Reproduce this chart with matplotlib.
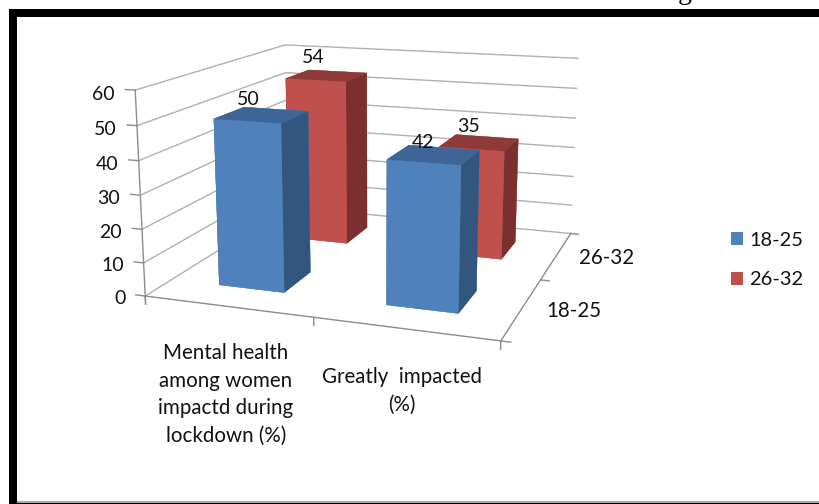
#!/usr/bin/env python
# -*- encoding: utf-8 -*-
import matplotlib
matplotlib.use('Agg')
import matplotlib.pyplot as plt
from matplotlib.patches import Patch, Rectangle
from mpl_toolkits.mplot3d import proj3d

categories = ['Mental health\namong women\nimpactd during\nlockdown (%)', 'Greatly  impacted\n(%)']
series = ['18-25', '26-32']
values_18_25 = [50, 42]
values_26_32 = [54, 35]
z_ticks = [0, 10, 20, 30, 40, 50, 60]

W, H = 820, 504
plt.rcParams['font.family'] = ['Lato', 'DejaVu Sans']
FS = 14
FS_CAT = 14.8
TXT = '#111111'

fig = plt.figure(figsize=(W / 100, H / 100), dpi=100)
# view fitted against the reference corners
ax = fig.add_axes([119.07 / W, 77.95 / H, 499.95 / W, 499.95 / H], projection='3d', computed_zorder=False)
ax.view_init(13.4, -70.78, 0)
ax.set_proj_type('persp', focal_length=0.431)
ax.set_box_aspect((1.744, 1.722, 1))
ax.set_axis_off()
ax.patch.set_alpha(0)

n_cat = len(categories)
n_ser = len(series)
top = z_ticks[-1]


def label(x, y, z, s, **kw):
    # plain 2D text at the projected point of a data position
    px, py, _ = proj3d.proj_transform(x, y, z, ax.get_proj())
    ax.text2D(px, py, s, transform=ax.transData, color=TXT, zorder=20, **kw)


# walls
for z in z_ticks:
    ax.plot([0, 0, n_cat], [0, n_ser, n_ser], [z, z, z], color='#b0b0b0', lw=1.0, zorder=1)
# axis lines and ticks
axis_c = '#8c8c8c'
ax.plot([0, 0], [0, 0], [-2.4, top], color=axis_c, lw=1.0, zorder=1.5)
ax.plot([0, n_cat], [0, 0], [0, 0], color=axis_c, lw=1.0, zorder=1.5)
ax.plot([n_cat, n_cat], [0, n_ser], [0, 0], color=axis_c, lw=1.0, zorder=1.5)
for z in z_ticks:
    ax.plot([-0.06, 0], [0, 0], [z, z], color=axis_c, lw=1.0, zorder=1.5)
for i in range(n_cat + 1):
    ax.plot([i, i], [0, 0], [0, -2.4], color=axis_c, lw=1.0, zorder=1.5)
for j in range(n_ser + 1):
    ax.plot([n_cat, n_cat + 0.05], [j, j], [0, 0], color=axis_c, lw=1.0, zorder=1.5)

# bars, back row first
bw, bd = 0.40, 0.385
blue = ['#4F81BD', '#3E6595', '#4F81BD', '#4F81BD', '#33567F', '#33567F']
red = ['#C0504D', '#8E3A38', '#C0504D', '#C0504D', '#7A302E', '#7A302E']
rows = [(1, values_26_32, red), (0, values_18_25, blue)]
order = 2
for j, vals, cols in rows:
    for i, v in enumerate(vals):
        ax.bar3d(i + 0.5 - bw / 2, j + 0.5 - bd / 2, 0, bw, bd, v, color=cols, edgecolor=cols,
                 linewidth=0.2, shade=False, zorder=order)
        order += 1

ax.set_xlim3d(0, n_cat)
ax.set_ylim3d(0, n_ser)
ax.set_zlim3d(0, top)
ax.xaxis.set_visible(False)
ax.yaxis.set_visible(False)
ax.zaxis.set_visible(False)

# texts go on after the limits are final
for z in z_ticks:
    label(-0.125, 0, z - 1.6, str(z), ha='right', va='center', fontsize=FS)

# nudges for the value labels, by row then category
label_dz = {0: [2.4, 1.0], 1: [4.2, 3.0]}
for j, vals, cols in rows:
    for i, v in enumerate(vals):
        label(i + 0.5 - bw / 2 + 0.03 + 0.05 * i, j + 0.5 + bd / 2, v + label_dz[j][i], str(v),
              ha='center', va='center', fontsize=FS)

# category and depth labels
for i, c in enumerate(categories):
    label(i + 0.485, 0, -11.0, c, ha='center', va='top', fontsize=FS_CAT, linespacing=1.49)
for j, s in enumerate(series):
    label(n_cat + 0.275 + 0.03 * j, j + 0.5, 0.8, s, ha='center', va='center', fontsize=FS_CAT)

# legend
handles = [Patch(facecolor=blue[0], edgecolor='none'), Patch(facecolor=red[0], edgecolor='none')]
fig.legend(handles, series, loc='center left', bbox_to_anchor=(713 / W, 1 - 260 / H), frameon=False,
           fontsize=14.4, handlelength=0.62, handleheight=0.62, handletextpad=0.3, labelspacing=1.12,
           labelcolor=TXT)

# page border
bk = '#000000'
fig.add_artist(Rectangle((9 / W, 1 - 17 / H), 811 / W, 8 / H, transform=fig.transFigure, fc=bk, ec='none'))
fig.add_artist(Rectangle((9 / W, 0), 8 / W, 1 - 9 / H, transform=fig.transFigure, fc=bk, ec='none'))
fig.add_artist(Rectangle((17 / W, 0), 803 / W, 1.5 / H, transform=fig.transFigure, fc=bk, ec='none'))
fig.add_artist(Rectangle((17 / W, 1.5 / H), 803 / W, 1.5 / H, transform=fig.transFigure, fc='#a8a8a8', ec='none'))
fig.text(685 / W, 1 + 1 / H, 'g', family='Liberation Serif', fontsize=20, ha='center', va='baseline', color='k')

fig.savefig('out.png', dpi=100)
